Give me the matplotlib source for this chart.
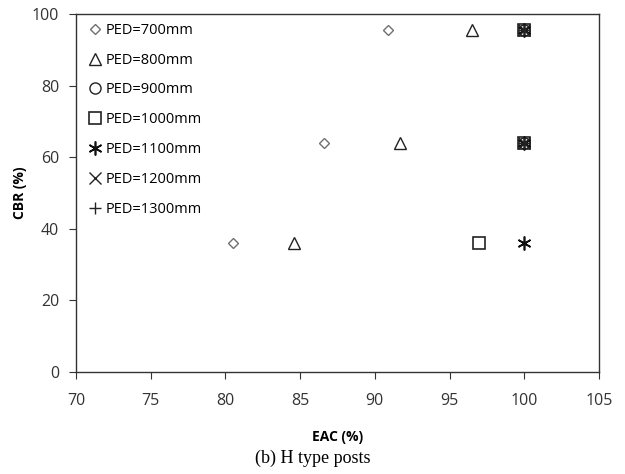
import matplotlib.pyplot as plt

# EAC (%) and CBR (%) readings per pile embedment depth
ped_labels = ["PED=700mm", "PED=800mm", "PED=900mm", "PED=1000mm",
              "PED=1100mm", "PED=1200mm", "PED=1300mm"]
eac_700 = [80.5, 86.6, 90.9]
cbr_700 = [36, 64, 95.5]
eac_800 = [84.6, 91.7, 96.5]
cbr_800 = [36, 64, 95.5]
eac_900 = [100, 100]
cbr_900 = [64, 95.5]
eac_1000 = [97.0, 100, 100]
cbr_1000 = [36, 64, 95.5]
eac_1100 = [100, 100, 100]
cbr_1100 = [36, 64, 95.5]
eac_1200 = [100, 100]
cbr_1200 = [64, 95.5]
eac_1300 = [100, 100]
cbr_1300 = [64, 95.5]

plt.rcParams['font.family'] = ['Open Sans', 'DejaVu Sans']

fig = plt.figure(figsize=(6.25, 4.74), dpi=100)
ax = fig.add_axes([0.1216, 0.2152, 0.8368, 0.7553])

series = [
    (eac_700, cbr_700, 'D', 5.5, '#707070', 1.0),
    (eac_800, cbr_800, '^', 8, '#222222', 1.0),
    (eac_900, cbr_900, 'o', 8, '#222222', 1.0),
    (eac_1000, cbr_1000, 's', 9, '#222222', 1.2),
    (eac_1100, cbr_1100, (6, 2, 0), 10, '#111111', 1.2),
    (eac_1200, cbr_1200, 'x', 8, '#222222', 1.0),
    (eac_1300, cbr_1300, '+', 9, '#222222', 1.0),
]
for (xs, ys, mk, ms, col, lw), lab in zip(series, ped_labels):
    ax.plot(xs, ys, linestyle='none', marker=mk, markersize=ms,
            markerfacecolor='none', markeredgecolor=col,
            markeredgewidth=lw, label=lab)

ax.set_xlim(70, 105)
ax.set_ylim(0, 100)
ax.set_xticks(range(70, 106, 5))
ax.set_yticks(range(0, 101, 20))
ax.tick_params(direction='out', length=5, labelsize=11.5, colors='#333333')
ax.tick_params(axis='x', pad=10)
ax.tick_params(axis='y', pad=7)
for s in ax.spines.values():
    s.set_color('#333333')
    s.set_linewidth(1.0)

ax.set_xlabel("EAC (%)", fontsize=10, fontweight='bold')
ax.set_ylabel("CBR (%)", fontsize=10, fontweight='bold')
ax.xaxis.set_label_coords(0.5, -0.162)
ax.yaxis.set_label_coords(-0.094, 0.5)

ax.legend(loc='upper left', bbox_to_anchor=(0.0, 1.0), frameon=False,
          fontsize=10.5, handletextpad=0.05, handlelength=1.4,
          labelspacing=1.02, borderaxespad=0.1, borderpad=0.5)

fig.text(0.5, 0.034, "(b) H type posts", ha='center', va='center',
         fontsize=13, family=['Liberation Serif', 'DejaVu Serif'])

fig.savefig("out.png", dpi=100)
